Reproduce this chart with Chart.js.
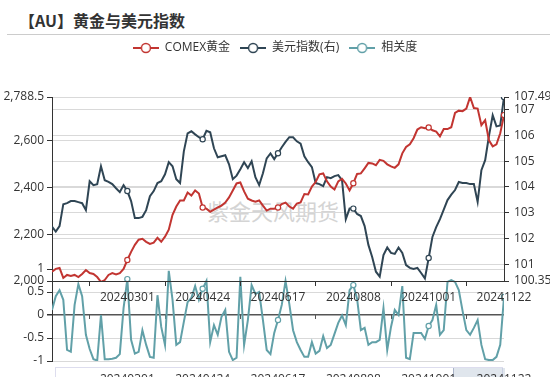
<!DOCTYPE html>
<html lang="zh-CN">
<head>
<meta charset="utf-8">
<title>【AU】黄金与美元指数</title>
<script src="https://cdn.jsdelivr.net/npm/chart.js@4.4.1/dist/chart.umd.min.js"></script>
<style>
    html, body { margin: 0; padding: 0; background: #fff; }
    #wrap { position: relative; width: 550px; height: 377px; overflow: hidden; }
    #title {
        position: absolute; left: 19px; top: 8px; line-height: 22px;
        font: bold 16px 'Noto Sans CJK SC', sans-serif; color: #333;
    }
    #rule { position: absolute; left: 7px; right: 0; top: 34px; border-top: 1px solid #ccc; }
    #mark {
        position: absolute; left: 207px; top: 194px; line-height: 24px;
        font: 22px 'Noto Sans CJK SC', sans-serif; color: #d4d4d4;
    }
    #slider { position: absolute; left: 55px; top: 367px; width: 448px; height: 30px; border: 1px solid #dde; box-sizing: border-box; }
    #slider div { position: absolute; left: 397px; top: 0; width: 51px; height: 100%; background: rgba(167, 183, 204, 0.35); border-left: 1px solid #aab4c8; }
    canvas { position: absolute; left: 0; }
</style>
</head>
<body>
<div id="wrap">
    <div id="title">【AU】黄金与美元指数</div>
    <div id="rule"></div>
    <div id="mark">紫金天风期货</div>
    <div id="slider"><div></div></div>
    <canvas id="corrChart" width="550" height="377" style="top:0"></canvas>
    <canvas id="mainChart" width="550" height="345" style="top:32px"></canvas>
</div>
<script>
(function () {
    'use strict';

    // ── Data ──────────────────────────────────────────────────────────────────
    var seriesNames = ['COMEX黄金', '美元指数(右)', '相关度'];

    // sample index of each dated label on the x axis (0..120)
    var labelIdx   = [20, 40, 60, 80, 100, 120];
    var dateLabels = ['20240301', '20240424', '20240617', '20240808', '20241001', '20241122'];

    var goldTicks = [2000, 2200, 2400, 2600, 2788.5];
    var dxyTicks  = [100.35, 101, 102, 103, 104, 105, 106, 107, 107.49];
    var corrTicks = [-1, -0.5, 0, 0.5, 1];

    var gold = [
        2040, 2052, 2056, 2013, 2026, 2022, 2026, 2017, 2030, 2047,
        2034, 2030, 2017, 1996, 2004, 2026, 2034, 2028, 2034, 2052,
        2090, 2125, 2155, 2177, 2181, 2168, 2159, 2164, 2185, 2168,
        2190, 2220, 2284, 2319, 2345, 2345, 2379, 2366, 2388, 2375,
        2315, 2310, 2297, 2306, 2315, 2323, 2336, 2358, 2388, 2418,
        2422, 2384, 2353, 2345, 2340, 2345, 2323, 2302, 2310, 2310,
        2315, 2330, 2336, 2319, 2310, 2332, 2337, 2373, 2371, 2405,
        2424, 2457, 2461, 2427, 2405, 2392, 2427, 2438, 2418, 2388,
        2419, 2459, 2461, 2483, 2506, 2504, 2496, 2519, 2515, 2500,
        2491, 2485, 2500, 2547, 2574, 2586, 2612, 2649, 2659, 2655,
        2658, 2646, 2640, 2620, 2651, 2651, 2659, 2720, 2730, 2728,
        2739, 2788.5, 2741, 2739, 2668, 2689, 2603, 2577, 2586, 2633,
        2711
    ];

    var dxy = [
        102.46, 102.27, 102.48, 103.33, 103.37, 103.45, 103.45, 103.41, 103.37, 103.10,
        104.22, 104.07, 104.11, 104.80, 104.26, 104.20, 104.11, 103.95, 103.80, 104.07,
        103.84, 103.45, 102.79, 102.79, 102.84, 103.10, 103.64, 103.84, 104.15, 104.22,
        104.49, 104.96, 104.80, 104.30, 104.15, 105.38, 106.08, 106.16, 106.04, 105.93,
        105.85, 106.18, 106.12, 105.50, 105.15, 105.19, 105.23, 104.88, 104.30, 104.44,
        104.69, 104.96, 104.73, 105.00, 104.38, 104.07, 104.53, 105.11, 105.30, 105.08,
        105.31, 105.54, 105.75, 105.93, 105.93, 105.77, 105.68, 105.19, 104.96, 104.77,
        104.15, 104.11, 104.03, 104.38, 104.34, 104.42, 104.46, 104.26, 102.75, 103.16,
        103.16, 102.95, 102.87, 102.48, 101.75, 101.28, 100.71, 100.52, 101.36, 101.65,
        101.44, 101.40, 101.65, 101.44, 100.97, 100.86, 100.82, 100.86, 100.66, 100.45,
        101.24, 102.06, 102.44, 102.75, 103.12, 103.49, 103.70, 103.88, 104.19, 104.15,
        104.15, 104.11, 104.11, 103.42, 104.65, 105.04, 105.97, 106.78, 106.35, 106.39,
        107.49
    ];

    var corr = [
        0.11, 0.41, 0.54, 0.33, -0.76, -0.80, 0.22, 0.67, 0.41, -0.43,
        -0.74, -0.96, -0.99, 0.00, -0.96, -0.96, -0.95, -0.93, -0.85, 0.15,
        0.78, -0.54, -0.84, -0.80, -0.33, -0.65, -0.91, -0.93, 0.43, -0.26,
        -0.65, 0.96, 0.33, -0.65, -0.59, -0.15, 0.28, 0.37, 0.63, 0.33,
        0.57, 0.74, -0.59, -0.22, -0.43, -0.04, 0.11, -0.80, -0.98, -0.93,
        0.83, -0.65, -0.11, 0.65, 0.46, 0.50, -0.11, -0.76, -0.85, -0.39,
        -0.11, 0.22, 0.74, 0.24, -0.33, -0.59, -0.76, -0.91, -0.91, -0.59,
        -0.84, -0.78, -0.46, -0.72, -0.65, -0.41, -0.17, -0.01, -0.22, 0.54,
        0.65, 0.35, -0.33, -0.28, -0.65, -0.59, -0.59, -0.54, 0.15, -0.76,
        -0.26, 0.11, 0.00, 0.63, -0.93, -0.96, -0.39, -0.39, -0.39, -0.52,
        -0.24, -0.11, 0.22, -0.43, -0.33, 0.72, 0.76, 0.72, 0.54, 0.09,
        -0.33, -0.43, -0.28, -0.11, -0.65, -0.96, -0.98, -0.98, -0.91, -0.65,
        0.39
    ];

    // ── Styles ────────────────────────────────────────────────────────────────
    var COLOURS = ['#c23531', '#2f4554', '#61a0a8'];
    var GRID    = '#d9d9d9';
    var AXIS    = '#333';

    Chart.defaults.font.family = "'Open Sans', 'Noto Sans CJK SC', sans-serif";
    Chart.defaults.font.size = 12;
    Chart.defaults.color = '#333';

    function toPoints(arr) {
        return arr.map(function (v, i) { return { x: i, y: v }; });
    }

    function fixedTicks(list) {
        return function (scale) {
            scale.ticks = list.map(function (v) { return { value: v }; });
        };
    }

    function dateTick(v) {
        var k = labelIdx.indexOf(v);
        return k >= 0 ? dateLabels[k] : '';
    }

    // hollow symbol only on the labelled samples
    function symbolRadius(ctx) {
        return labelIdx.indexOf(ctx.dataIndex) >= 0 ? 2.6 : 0;
    }

    function lineDataset(label, data, colour, axisId) {
        return {
            label: label,
            data: toPoints(data),
            yAxisID: axisId,
            borderColor: colour,
            backgroundColor: colour,
            borderWidth: 2,
            pointRadius: symbolRadius,
            pointHoverRadius: symbolRadius,
            pointBackgroundColor: '#fff',
            pointBorderColor: colour,
            pointBorderWidth: 1.2,
            tension: 0,
        };
    }

    function legendIcon(colour) {
        var c = document.createElement('canvas');
        c.width = 26; c.height = 12;
        var g = c.getContext('2d');
        g.strokeStyle = colour;
        g.lineWidth = 2;
        g.beginPath(); g.moveTo(0, 6); g.lineTo(26, 6); g.stroke();
        g.beginPath(); g.arc(13, 6, 4.5, 0, Math.PI * 2);
        g.fillStyle = '#fff'; g.fill();
        g.lineWidth = 1.5; g.stroke();
        return c;
    }

    // legend block takes the space down to the top of the plot
    var legendSpacer = {
        id: 'legendSpacer',
        beforeInit: function (chart) {
            var fit = chart.legend.fit;
            chart.legend.fit = function () {
                fit.call(this);
                this.height = 65;
            };
        },
    };

    // ── Upper panel: gold vs dollar index ────────────────────────────────────
    new Chart(document.getElementById('mainChart').getContext('2d'), {
        type: 'line',
        data: {
            datasets: [
                lineDataset(seriesNames[0], gold, COLOURS[0], 'y'),
                lineDataset(seriesNames[1], dxy, COLOURS[1], 'y1'),
            ],
        },
        plugins: [legendSpacer],
        options: {
            responsive: false,
            animation: false,
            events: [],
            layout: { padding: 0 },
            plugins: {
                tooltip: { enabled: false },
                legend: {
                    position: 'top',
                    onClick: null,
                    labels: {
                        usePointStyle: true,
                        pointStyleWidth: 26,
                        padding: 10,
                        color: '#333',
                        generateLabels: function () {
                            return seriesNames.map(function (name, k) {
                                return {
                                    text: name,
                                    pointStyle: legendIcon(COLOURS[k]),
                                    fillStyle: 'transparent',
                                    strokeStyle: 'transparent',
                                    lineWidth: 0,
                                    hidden: false,
                                    fontColor: '#333',
                                };
                            });
                        },
                    },
                },
            },
            scales: {
                x: {
                    type: 'linear',
                    min: 0, max: 120,
                    afterFit: function (s) { s.height = 96; },
                    afterBuildTicks: fixedTicks(labelIdx),
                    ticks: { autoSkip: false, maxRotation: 0, padding: 4, callback: dateTick },
                    grid: { drawOnChartArea: false, offset: true, tickLength: 5, tickColor: AXIS },
                    border: { color: AXIS },
                },
                y: {
                    position: 'left',
                    min: 2000, max: 2788.5,
                    afterFit: function (s) { s.width = 52; },
                    afterBuildTicks: fixedTicks(goldTicks),
                    ticks: { padding: 3, autoSkip: false, callback: function (v) { return v.toLocaleString('en-US'); } },
                    grid: { color: GRID, tickLength: 5, tickColor: AXIS },
                    border: { color: AXIS },
                },
                y1: {
                    position: 'right',
                    min: 100.35, max: 107.49,
                    afterFit: function (s) { s.width = 46; },
                    afterBuildTicks: fixedTicks(dxyTicks),
                    ticks: { padding: 5, autoSkip: false, callback: function (v) { return String(v); } },
                    grid: { color: GRID, tickLength: 5, tickColor: AXIS },
                    border: { color: AXIS },
                },
            },
        },
    });

    // ── Lower panel: rolling correlation ─────────────────────────────────────
    new Chart(document.getElementById('corrChart').getContext('2d'), {
        type: 'line',
        data: {
            datasets: [lineDataset(seriesNames[2], corr, COLOURS[2], 'y')],
        },
        options: {
            responsive: false,
            animation: false,
            events: [],
            layout: { padding: { top: 269, right: 46, left: 0, bottom: 0 } },
            plugins: {
                legend: { display: false },
                tooltip: { enabled: false },
            },
            scales: {
                x: {
                    type: 'linear',
                    position: 'bottom',
                    min: 0, max: 120,
                    afterFit: function (s) { s.height = 16; },
                    afterBuildTicks: fixedTicks(labelIdx),
                    ticks: { autoSkip: false, maxRotation: 0, padding: 3, callback: dateTick },
                    grid: { display: false },
                    border: { display: false },
                },
                xz: {
                    type: 'linear',
                    position: { y: 0 },
                    min: 0, max: 120,
                    afterFit: function (s) { s.height = 0; },
                    afterBuildTicks: fixedTicks(labelIdx),
                    ticks: { display: false },
                    grid: { drawOnChartArea: false, offset: true, tickLength: 4, tickColor: '#555' },
                    border: { display: false },
                },
                y: {
                    position: 'left',
                    min: -1, max: 1,
                    afterFit: function (s) { s.width = 52; },
                    afterBuildTicks: fixedTicks(corrTicks),
                    ticks: { padding: 3, autoSkip: false, callback: function (v) { return String(v); } },
                    grid: {
                        color: function (ctx) { return ctx.tick && ctx.tick.value === 0 ? '#555' : GRID; },
                        lineWidth: function (ctx) { return ctx.tick && ctx.tick.value === 0 ? 1.5 : 1; },
                        tickLength: 5,
                        tickColor: AXIS,
                    },
                    border: { color: AXIS },
                },
            },
        },
    });
}());
</script>
</body>
</html>
